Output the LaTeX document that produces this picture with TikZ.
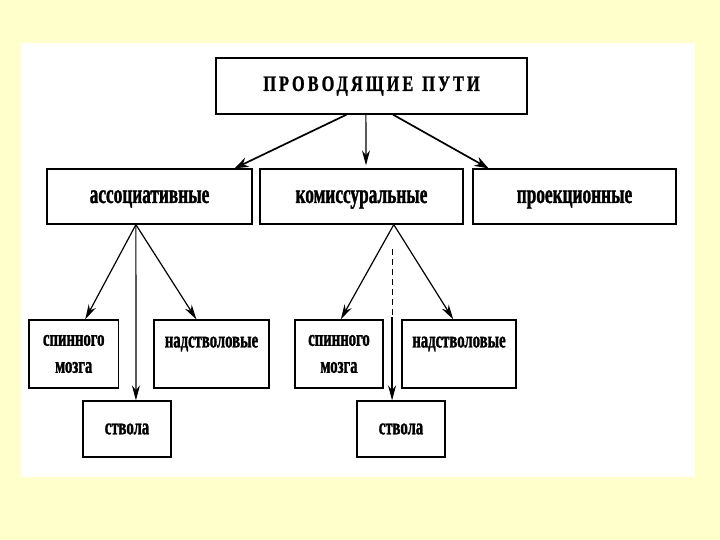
\documentclass[tikz,border=0pt]{standalone}
\usepackage{fontspec}
\setmainfont{Liberation Serif}
\newfontfamily\cf[FakeStretch=0.64,BoldFeatures={FakeBold=1.2}]{Liberation Serif}
\newfontfamily\hf[FakeStretch=0.74,LetterSpace=14,BoldFeatures={FakeBold=1.2}]{Liberation Serif}
\usetikzlibrary{arrows.meta,calc}
\definecolor{bgyellow}{HTML}{FFFFCC}
\begin{document}
\begin{tikzpicture}[x=1pt,y=-1pt,
  box/.style={draw=black,line width=1.3pt,fill=white,inner sep=0pt,align=center},
  big/.style={font=\cf\bfseries\fontsize{27}{28}\selectfont,text height=13pt,text depth=0pt},
  small/.style={font=\cf\bfseries\fontsize{23}{27}\selectfont},
  txt/.style={inner sep=0pt,align=center},
  arr/.style={-{Stealth[length=15pt,width=8pt]},line width=1.2pt},
  arrt/.style={-{Stealth[length=14pt,width=10pt]},line width=1.7pt}]
\fill[bgyellow] (0,0) rectangle (720,540);
\fill[white] (21,43) rectangle (695,477);
\useasboundingbox (0,0) rectangle (720,540);
% boxes
\node[box,minimum width=311pt,minimum height=56pt,font=\hf\bfseries\fontsize{22}{24}\selectfont] (top) at (371.5,86) {ПРОВОДЯЩИЕ\hspace{9pt}ПУТИ};
\node[box,big,minimum width=205pt,minimum height=55pt] (assoc) at (149.5,196.5) {ассоциативные};
\node[box,big,minimum width=203pt,minimum height=55pt] (komis) at (361.5,196.5) {комиссуральные};
\node[box,big,minimum width=203pt,minimum height=55pt] (proek) at (574.5,196.5) {проекционные};
\node[box,small,minimum width=89.5pt,minimum height=68pt] (sp1) at (73.75,354) {спинного\\мозга};
\node[box,minimum width=115pt,minimum height=68pt] (nad1) at (211.5,354) {};
\node[txt,small] (nad1t) at (211.5,344) {надстволовые};
\node[box,small,minimum width=88pt,minimum height=56pt] (st1) at (127,429) {ствола};
\node[box,small,minimum width=88pt,minimum height=68pt] (sp2) at (339,354) {спинного\\мозга};
\node[box,minimum width=114pt,minimum height=68pt] (nad2) at (459,354) {};
\node[txt,small] (nad2t) at (459,344) {надстволовые};
\node[box,small,minimum width=88pt,minimum height=56pt] (st2) at (401,429) {ствола};
% top arrows
\draw[arrt] ($(top.south west)!0.42!(top.south east)$) -- ($(assoc.north west)!0.912!(assoc.north east)$);
\draw[arr] ($(top.south west)!0.482!(top.south east)$) -- ($(komis.north west)!0.522!(komis.north east)+(0,-3)$);
\draw[arrt] ($(top.south west)!0.569!(top.south east)$) -- ($(proek.north west)!0.079!(proek.north east)$);
% associative
\coordinate (aB) at ($(assoc.south west)!0.434!(assoc.south east)$);
\draw[arr] (aB) -- ($(sp1.north west)!0.626!(sp1.north east)$);
\draw[arr] (aB) -- ($(st1.north west)!0.6!(st1.north east)$);
\draw[arr] (aB) -- ($(nad1.north west)!0.37!(nad1.north east)$);
% commissural
\coordinate (kB) at ($(komis.south west)!0.658!(komis.south east)$);
\draw[arr] (kB) -- ($(sp2.north west)!0.52!(sp2.north east)$);
\draw[arr] (kB) -- ($(nad2.north west)!0.45!(nad2.north east)$);
\coordinate (kD) at ($(st2.north west)!0.4!(st2.north east)+(0,-151)$);
\coordinate (kM) at ($(st2.north west)!0.4!(st2.north east)+(0,-83)$);
\draw[line width=0.9pt,dash pattern=on 6pt off 4pt] (kD) -- (kM);
\draw[arr] (kM) -- ($(st2.north west)!0.4!(st2.north east)$);
\end{tikzpicture}
\end{document}
